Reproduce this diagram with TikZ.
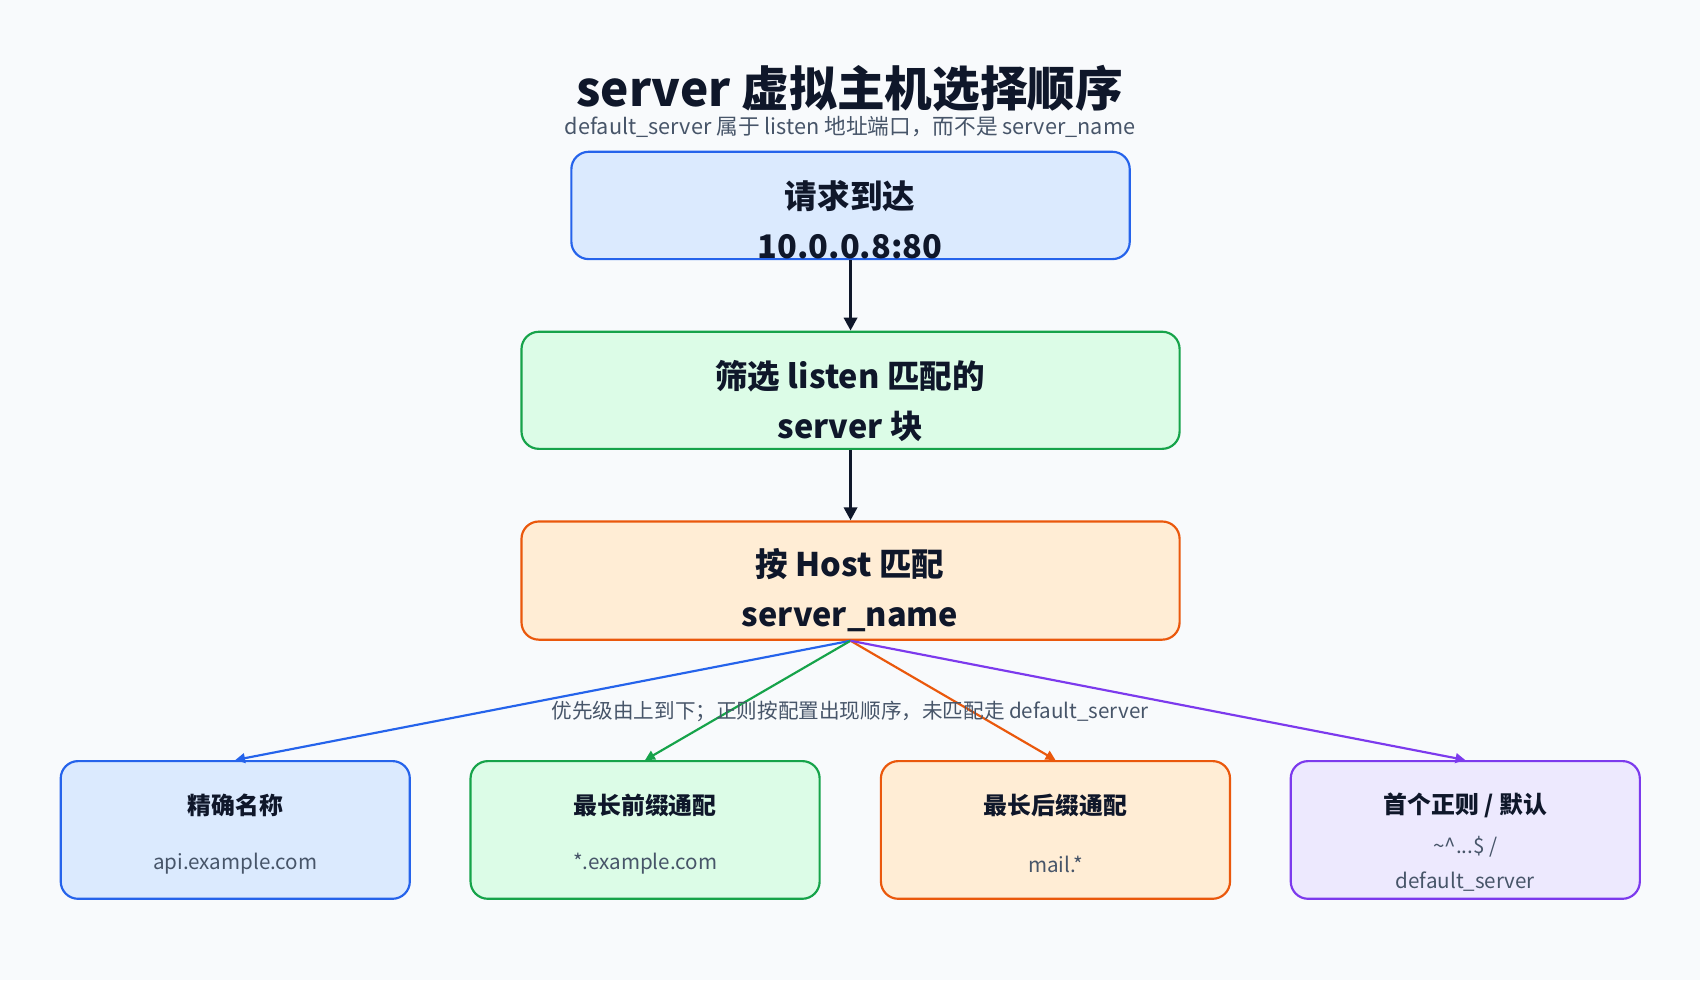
\documentclass[tikz,border=0pt]{standalone}
\usepackage{fontspec}
\setmainfont{Noto Sans CJK SC}
\usetikzlibrary{arrows.meta}
\definecolor{bg}{HTML}{F8FAFC}
\definecolor{ink}{HTML}{0F172A}
\definecolor{gr}{HTML}{475569}
\definecolor{bF}{HTML}{DBEAFE}\definecolor{bD}{HTML}{2563EB}
\definecolor{gF}{HTML}{DCFCE7}\definecolor{gD}{HTML}{16A34A}
\definecolor{oF}{HTML}{FFEDD5}\definecolor{oD}{HTML}{EA580C}
\definecolor{pF}{HTML}{EDE9FE}\definecolor{pD}{HTML}{7C3AED}
\tikzset{
 box/.style={draw=#1D,fill=#1F,line width=2pt,rounded corners=16pt,inner sep=0pt},
 big/.style={font=\fontsize{30}{46}\selectfont\bfseries,text=ink,align=center},
 small/.style={box=#1,minimum width=322pt,minimum height=127pt},
 ttl/.style={font=\fontsize{22}{26}\selectfont\bfseries,text=ink},
 sub/.style={font=\fontsize{19}{32}\selectfont,text=gr,align=center},
 flow/.style={draw=ink,line width=3pt,-{Triangle[length=12pt,width=12pt]}},
 fan/.style={draw=#1,line width=2pt,-{Triangle[length=9pt,width=9pt]}}
}
\begin{document}
\begin{tikzpicture}[x=1pt,y=-1pt]
\fill[bg] (0,0) rectangle (1568,904);
\useasboundingbox (0,0) rectangle (1568,904);
\node[font=\fontsize{44}{50}\selectfont\bfseries,text=ink] (title) at (784,82) {server 虚拟主机选择顺序};
\node[font=\fontsize{20}{24}\selectfont,text=gr] (subt) at (784,117) {default\_server 属于 listen 地址端口，而不是 server\_name};
\node[box=b,minimum width=515pt,minimum height=99pt] (n1) at (784.5,189.5) {};
\node[big] at (784,203) {请求到达\\10.0.0.8:80};
\node[box=g,minimum width=607pt,minimum height=108pt] (n2) at (784.5,360) {};
\node[big] at (784,370) {筛选 listen 匹配的\\server 块};
\node[box=o,minimum width=607pt,minimum height=109pt] (n3) at (784.5,535.5) {};
\node[big] at (784,544) {按 Host 匹配\\server\_name};
\draw[flow] (n1.south) -- (n2.north);
\draw[flow] (n2.south) -- (n3.north);
\node[small=b] (a) at (217,765.5) {};
\node[small=g] (b) at (595,765.5) {};
\node[small=o] (c) at (973.5,765.5) {};
\node[small=p] (d) at (1351.5,765.5) {};
\draw[fan=bD] (n3.south) -- (a.north);
\draw[fan=gD] (n3.south) -- (b.north);
\draw[fan=oD] (n3.south) -- (c.north);
\draw[fan=pD] (n3.south) -- (d.north);
\node[ttl] at (217,743) {精确名称};
\node[sub] at (217,797) {api.example.com};
\node[ttl] at (595,743) {最长前缀通配};
\node[sub] at (595,797) {*.example.com};
\node[ttl] at (973.5,743) {最长后缀通配};
\node[sub] at (973.5,797) {mail.*};
\node[ttl] at (1351.5,743) {首个正则 / 默认};
\node[sub] at (1351.5,797) {\textasciitilde\textasciicircum...\$ /\\default\_server};
\node[font=\fontsize{19}{24}\selectfont,text=gr] (lbl) at (784,656) {优先级由上到下；正则按配置出现顺序，未匹配走 default\_server};
\end{tikzpicture}
\end{document}
